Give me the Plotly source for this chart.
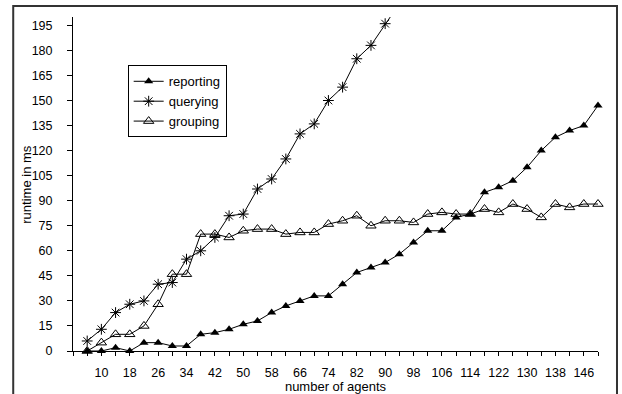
import plotly.graph_objects as go

agents = [6, 10, 14, 18, 22, 26, 30, 34, 38, 42, 46, 50, 54, 58, 62, 66, 70, 74, 78, 82,
          86, 90, 94, 98, 102, 106, 110, 114, 118, 122, 126, 130, 134, 138, 142, 146, 150]

reporting = [0, 0, 2, 0, 5, 5, 3, 3, 10, 11, 13, 16, 18, 23, 27, 30, 33, 33, 40, 47,
             50, 53, 58, 65, 72, 72, 80, 82, 95, 98, 102, 110, 120, 128, 132, 135, 147]

querying = [6, 13, 23, 28, 30, 40, 41, 55, 60, 68, 81, 82, 97, 103, 115, 130, 136, 150, 158, 175,
            183, 196, 208]

grouping = [0, 5, 10, 10, 15, 28, 46, 46, 70, 70, 68, 72, 73, 73, 70, 71, 71, 76, 78, 81,
            75, 78, 78, 77, 82, 83, 82, 82, 85, 83, 88, 85, 80, 88, 86, 88, 88]

tick_positions = list(range(2, 151, 4))
tick_labels = [str(v) if (v - 10) % 8 == 0 and v >= 10 else "" for v in tick_positions]
y_ticks = list(range(0, 196, 15))

FONT = "Liberation Sans, Arial, sans-serif"

fig = go.Figure()
fig.add_trace(go.Scatter(
    x=agents, y=reporting, name="reporting", mode="lines+markers", cliponaxis=False,
    line=dict(color="black", width=1),
    marker=dict(symbol="triangle-up", size=8, color="black"),
))
fig.add_trace(go.Scatter(
    x=agents[:len(querying)], y=querying, name="querying", mode="lines+markers", cliponaxis=True,
    line=dict(color="black", width=1),
    marker=dict(symbol="asterisk-open", size=9, color="black", line=dict(width=1, color="black")),
))
fig.add_trace(go.Scatter(
    x=agents, y=grouping, name="grouping", mode="lines+markers", cliponaxis=False,
    line=dict(color="black", width=1),
    marker=dict(symbol="triangle-up-open", size=9, color="black", line=dict(width=1, color="black")),
))

L, R, T, B = 72.8, 24, 16.6, 43
W, H = 622, 394
pw = W - L - R
ph = H - T - B


def px_x(p):
    return (p - L) / pw


def px_y(p):
    return (H - B - p) / ph


fig.update_layout(
    width=W, height=H,
    margin=dict(l=L, r=R, t=T, b=B),
    paper_bgcolor="white", plot_bgcolor="white",
    font=dict(family=FONT, size=12, color="black"),
    showlegend=True,
    legend=dict(
        x=px_x(127.5), y=px_y(65), xanchor="left", yanchor="top",
        bordercolor="black", borderwidth=1, bgcolor="white",
        font=dict(size=13, family=FONT),
        itemwidth=30, tracegroupgap=0,
    ),
    xaxis=dict(
        range=[2, 150], tickmode="array", tickvals=tick_positions, ticktext=tick_labels,
        showline=True, linecolor="black", linewidth=1, automargin=False,
        ticks="outside", ticklen=4, tickcolor="black", tickwidth=1,
        showgrid=False, zeroline=False,
        tickfont=dict(size=12.5), ticklabelstandoff=6,
        title=dict(text="number of agents", font=dict(size=13), standoff=2),
    ),
    yaxis=dict(
        range=[0, 200], tickmode="array", tickvals=y_ticks,
        showline=True, linecolor="black", linewidth=1, automargin=False,
        ticks="outside", ticklen=5, tickcolor="black", tickwidth=1,
        showgrid=False, zeroline=False,
        tickfont=dict(size=12.5), ticklabelstandoff=12,
    ),
    annotations=[
        dict(text="runtime in ms", xref="paper", yref="paper",
             x=px_x(25.5), y=0.5, xanchor="center", yanchor="middle",
             textangle=-90, showarrow=False, font=dict(size=13, family=FONT)),
    ],
    shapes=[
        dict(type="rect", xref="paper", yref="paper",
             x0=px_x(13), x1=px_x(617), y0=px_y(400), y1=px_y(5.5),
             line=dict(color="#333333", width=2)),
    ],
)

fig.write_html("out.html")
